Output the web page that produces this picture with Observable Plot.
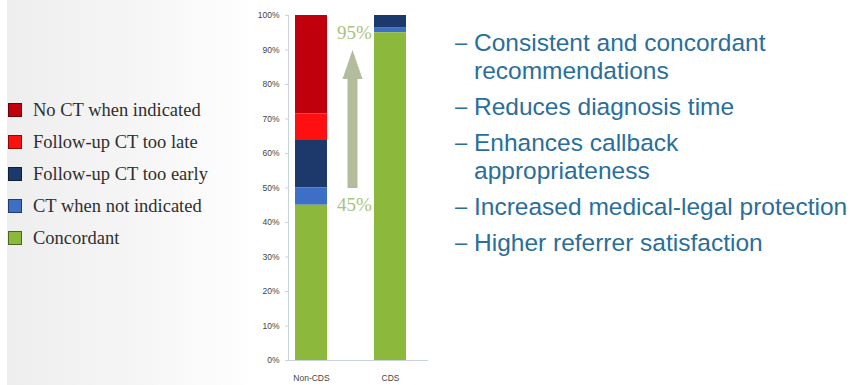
<!DOCTYPE html>
<html>
<head>
<meta charset="utf-8">
<script src="https://cdn.jsdelivr.net/npm/d3@7"></script>
<script src="https://cdn.jsdelivr.net/npm/@observablehq/plot@0.6"></script>
<style>
  html, body { margin: 0; padding: 0; background: #ffffff; }
  body { width: 856px; height: 385px; overflow: hidden; position: relative; font-family: "Liberation Sans", Arial, sans-serif; }
  #panel { position: absolute; left: 7px; top: 0; width: 250px; height: 385px; background: linear-gradient(to right, #eeeeee 0%, #f6f6f6 55%, #ffffff 100%); }
  #legend { position: absolute; left: 8px; top: 0; width: 240px; height: 385px; }
  .item { position: absolute; left: 0; height: 18px; display: flex; align-items: center; white-space: nowrap; }
  .sw { width: 14px; height: 14px; box-sizing: border-box; border: 1px solid rgba(0,0,0,0.45); flex: none; }
  .lab { margin-left: 11px; font-family: "Liberation Serif", serif; font-size: 18.5px; color: #2e2e2e; }
  #chart { position: absolute; left: 0; top: 0; }
  #bullets { position: absolute; left: 455px; top: 29px; width: 400px; color: #2a6e9b; font-family: "Liberation Sans", Arial, sans-serif; font-size: 24.5px; line-height: 28px; }
  #bullets p { margin: 0 0 8px 0; padding-left: 19px; position: relative; white-space: nowrap; }
  #bullets p::before { content: "\2013"; position: absolute; left: 0; font-size: 22px; }
</style>
</head>
<body>
<div id="panel"></div>
<div id="legend"></div>
<div id="chart"></div>
<div id="bullets"></div>
<script>
// ---- data ----
const groups = ["Non-CDS", "CDS"];
const categories = ["No CT when indicated", "Follow-up CT too late", "Follow-up CT too early", "CT when not indicated", "Concordant"];
const colors = ["#c0000c", "#ff1010", "#1d386b", "#3d6fc6", "#8cb83c"];
const nonCdsValues = [28.5, 7.5, 14, 5, 45];
const cdsValues = [0, 0, 3.5, 1.5, 95];
const yTicks = [0, 10, 20, 30, 40, 50, 60, 70, 80, 90, 100];
const concordantLabels = ["45%", "95%"];
const arrowFrom = 50;
const arrowTo = 90;
const bulletLines = [
  "Consistent and concordant recommendations",
  "Reduces diagnosis time",
  "Enhances callback appropriateness",
  "Increased medical-legal protection",
  "Higher referrer satisfaction"
];

// ---- build table ----
const rows = [];
categories.forEach((c, i) => {
  rows.push({group: groups[0], category: c, value: nonCdsValues[i]});
  rows.push({group: groups[1], category: c, value: cdsValues[i]});
});
const stackOrder = categories.slice().reverse();
const concIndex = categories.indexOf("Concordant");
const labelRows = [
  {group: groups[0], y: nonCdsValues[concIndex], text: concordantLabels[0]},
  {group: groups[0], y: cdsValues[concIndex], text: concordantLabels[1]}
];
const arrowRows = [{group: groups[0], from: arrowFrom, to: arrowTo}];

const axisColor = "#c9d3da";
const arrowColor = "#b3bd9d";

const chart = Plot.plot({
  width: 440,
  height: 385,
  marginLeft: 288,
  marginRight: 12,
  marginTop: 15,
  marginBottom: 25,
  style: {background: "transparent", fontFamily: "'Liberation Sans Narrow', 'Liberation Sans', sans-serif", fontSize: "8.5px", color: "#444"},
  x: {domain: groups, paddingInner: 0.595, paddingOuter: 0.1835, align: 0.24, label: null},
  y: {domain: [0, 100], label: null},
  color: {domain: categories, range: colors},
  marks: [
    Plot.barY(rows, {x: "group", y: "value", fill: "category", order: stackOrder}),
    Plot.frame({anchor: "left", stroke: axisColor}),
    Plot.ruleY([0], {stroke: axisColor}),
    Plot.axisY({ticks: yTicks, tickFormat: d => d + "%", tickSize: 3, tickPadding: 6, stroke: axisColor, fill: "#444", label: null}),
    Plot.axisX({tickSize: 0, tickPadding: 14, fill: "#444", label: null}),
    Plot.link(arrowRows, {x1: "group", x2: "group", y1: "from", y2: d => d.to - 8, stroke: arrowColor, strokeWidth: 10, dx: 41, strokeLinecap: "butt"}),
    Plot.vector(arrowRows, {x: "group", y: "to", length: 29, r: 10, shape: "spike", anchor: "end", fill: arrowColor, stroke: "none", dx: 41}),
    Plot.text(labelRows, {x: "group", y: "y", text: "text", dx: 43, fill: "#a9c47a", fontSize: 19, fontFamily: "'Liberation Serif', serif"})
  ]
});
document.getElementById("chart").appendChild(chart);

// ---- legend (uses the plot's colour scale) ----
const colorScale = chart.scale("color");
const legend = document.getElementById("legend");
categories.forEach((c, i) => {
  const item = document.createElement("div");
  item.className = "item";
  item.style.top = (101 + i * 32) + "px";
  const sw = document.createElement("div");
  sw.className = "sw";
  sw.style.background = colorScale.range[colorScale.domain.indexOf(c)];
  const lab = document.createElement("span");
  lab.className = "lab";
  lab.textContent = c;
  item.appendChild(sw);
  item.appendChild(lab);
  legend.appendChild(item);
});

// ---- bullets ----
const bullets = document.getElementById("bullets");
const wraps = {"Consistent and concordant recommendations": ["Consistent and concordant", "recommendations"],
               "Enhances callback appropriateness": ["Enhances callback", "appropriateness"]};
bulletLines.forEach(t => {
  const p = document.createElement("p");
  const parts = wraps[t] || [t];
  parts.forEach((s, j) => {
    if (j) p.appendChild(document.createElement("br"));
    p.appendChild(document.createTextNode(s));
  });
  bullets.appendChild(p);
});
</script>
</body>
</html>
